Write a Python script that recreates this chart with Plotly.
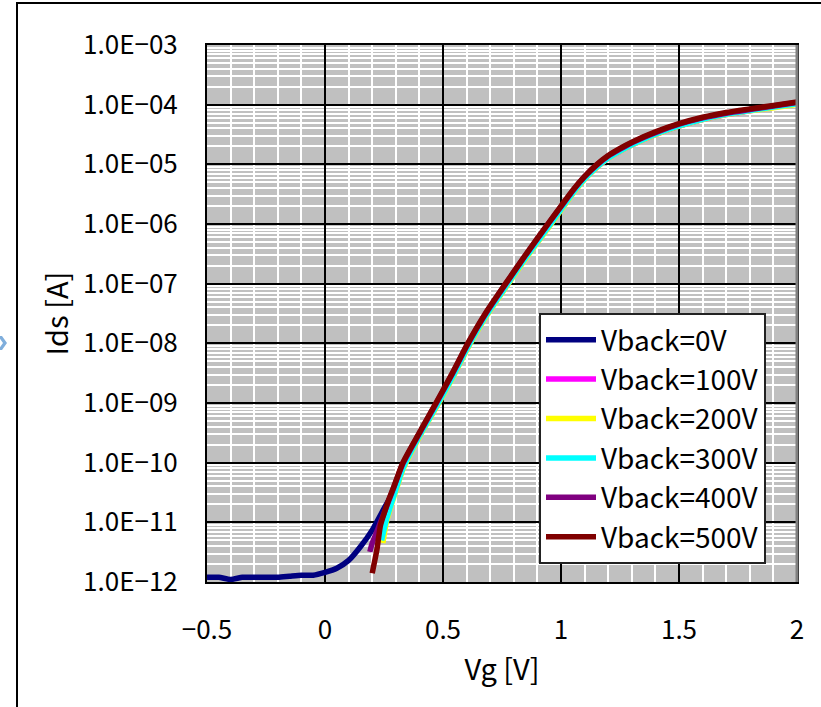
import plotly.graph_objects as go

# ---------------- data ----------------
series_names = ["Vback=0V", "Vback=100V", "Vback=200V", "Vback=300V", "Vback=400V", "Vback=500V"]
series_colors = ["#000080", "#FF00FF", "#FFFF00", "#00FFFF", "#800080", "#800000"]

vg_0v = [-0.5, -0.45, -0.40, -0.35, -0.30, -0.25, -0.20, -0.15, -0.10, -0.05, 0.0, 0.05, 0.10, 0.15, 0.20,
         0.25, 0.29, 0.33, 0.40, 0.47, 0.54, 0.605, 0.68, 0.765, 0.85, 0.948, 1.0, 1.05, 1.1, 1.15, 1.2,
         1.25, 1.3, 1.4, 1.5, 1.6, 1.7, 1.8, 1.9, 2.0]
ids_0v = [1.2e-12, 1.2e-12, 1.1e-12, 1.2e-12, 1.2e-12, 1.2e-12, 1.2e-12, 1.25e-12, 1.3e-12, 1.3e-12,
          1.45e-12, 1.7e-12, 2.3e-12, 3.9e-12, 7.4e-12, 1.7e-11, 3.3e-11, 8.8e-11, 2.9e-10, 9.0e-10,
          2.8e-9, 9.0e-9, 2.9e-8, 9.2e-8, 2.8e-7, 9.4e-7, 1.8e-6, 3.4e-6, 5.8e-6, 9.0e-6, 1.3e-5,
          1.7e-5, 2.15e-5, 3.2e-5, 4.4e-5, 5.7e-5, 6.9e-5, 8.0e-5, 9.2e-5, 1.05e-4]

vg_100v = [0.24, 0.26, 0.28, 0.30, 0.33, 0.40, 0.47, 0.54, 0.605, 0.68, 0.765, 0.85, 0.948, 1.0, 1.05,
           1.1, 1.15, 1.2, 1.25, 1.3, 1.4, 1.5, 1.6, 1.7, 1.8, 1.9, 2.0]
ids_100v = [6.0e-12, 1.2e-11, 2.1e-11, 3.6e-11, 8.2e-11, 2.8e-10, 8.6e-10, 2.7e-9, 8.6e-9, 2.8e-8,
            8.8e-8, 2.7e-7, 9.0e-7, 1.75e-6, 3.3e-6, 5.7e-6, 8.8e-6, 1.27e-5, 1.65e-5, 2.1e-5,
            3.15e-5, 4.35e-5, 5.6e-5, 6.8e-5, 7.9e-5, 9.0e-5, 1.03e-4]

vg_200v = [0.245, 0.26, 0.28, 0.30, 0.33, 0.40, 0.47, 0.54, 0.605, 0.68, 0.765, 0.85, 0.948, 1.0, 1.05,
           1.1, 1.15, 1.2, 1.25, 1.3, 1.4, 1.5, 1.6, 1.7, 1.8, 1.9, 2.0]
ids_200v = [4.5e-12, 1.0e-11, 1.9e-11, 3.3e-11, 7.6e-11, 2.7e-10, 8.2e-10, 2.6e-9, 8.3e-9, 2.7e-8,
            8.5e-8, 2.6e-7, 8.8e-7, 1.7e-6, 3.2e-6, 5.6e-6, 8.7e-6, 1.26e-5, 1.65e-5, 2.1e-5,
            3.15e-5, 4.35e-5, 5.6e-5, 6.8e-5, 7.9e-5, 8.9e-5, 1.01e-4]

vg_300v = [0.24, 0.26, 0.28, 0.30, 0.33, 0.40, 0.47, 0.54, 0.605, 0.68, 0.765, 0.85, 0.948, 1.0, 1.05,
           1.1, 1.15, 1.2, 1.25, 1.3, 1.4, 1.5, 1.6, 1.7, 1.8, 1.9, 2.0]
ids_300v = [5.0e-12, 1.1e-11, 2.0e-11, 3.5e-11, 8.0e-11, 2.8e-10, 8.5e-10, 2.7e-9, 8.6e-9, 2.8e-8,
            8.8e-8, 2.7e-7, 9.1e-7, 1.76e-6, 3.3e-6, 5.7e-6, 8.9e-6, 1.28e-5, 1.67e-5, 2.12e-5,
            3.2e-5, 4.4e-5, 5.7e-5, 6.9e-5, 8.0e-5, 9.1e-5, 1.04e-4]

vg_400v = [0.19, 0.20, 0.22, 0.235, 0.25, 0.27, 0.29, 0.33, 0.40, 0.47, 0.54, 0.605, 0.68, 0.765, 0.85,
           0.948, 1.0, 1.05, 1.1, 1.15, 1.2, 1.25, 1.3, 1.4, 1.5, 1.6, 1.7, 1.8, 1.9, 2.0]
ids_400v = [3.2e-12, 4.5e-12, 7.0e-12, 1.0e-11, 1.4e-11, 2.3e-11, 3.7e-11, 9.6e-11, 3.1e-10, 9.7e-10,
            3.1e-9, 9.7e-9, 3.1e-8, 9.8e-8, 3.0e-7, 1.03e-6, 1.95e-6, 3.6e-6, 6.2e-6, 9.6e-6, 1.38e-5,
            1.8e-5, 2.3e-5, 3.4e-5, 4.7e-5, 6.0e-5, 7.2e-5, 8.3e-5, 9.5e-5, 1.09e-4]

vg_500v = [0.20, 0.21, 0.22, 0.235, 0.25, 0.27, 0.29, 0.33, 0.40, 0.47, 0.54, 0.605, 0.68, 0.765, 0.85,
           0.948, 1.0, 1.05, 1.1, 1.15, 1.2, 1.25, 1.3, 1.4, 1.5, 1.6, 1.7, 1.8, 1.9, 2.0]
ids_500v = [1.4e-12, 2.2e-12, 3.5e-12, 8.9e-12, 1.4e-11, 2.4e-11, 3.8e-11, 1.0e-10, 3.2e-10, 1.0e-9,
            3.2e-9, 1.0e-8, 3.2e-8, 1.0e-7, 3.05e-7, 1.05e-6, 2.0e-6, 3.7e-6, 6.3e-6, 9.8e-6, 1.4e-5,
            1.85e-5, 2.35e-5, 3.5e-5, 4.8e-5, 6.15e-5, 7.4e-5, 8.5e-5, 9.7e-5, 1.11e-4]

all_vg = [vg_0v, vg_100v, vg_200v, vg_300v, vg_400v, vg_500v]
all_ids = [ids_0v, ids_100v, ids_200v, ids_300v, ids_400v, ids_500v]

x_tickvals = [-0.5, 0, 0.5, 1, 1.5, 2]
x_ticktext = ["\u22120.5", "0", "0.5", "1", "1.5", "2"]
y_tickvals = [1e-12, 1e-11, 1e-10, 1e-9, 1e-8, 1e-7, 1e-6, 1e-5, 1e-4, 1e-3]
y_ticktext = ["1.0E\u221212", "1.0E\u221211", "1.0E\u221210", "1.0E\u221209", "1.0E\u221208",
              "1.0E\u221207", "1.0E\u221206", "1.0E\u221205", "1.0E\u221204", "1.0E\u221203"]

FONT = "Noto Sans CJK JP"

fig = go.Figure()
for name, color, vg, ids in zip(series_names, series_colors, all_vg, all_ids):
    fig.add_trace(go.Scatter(x=vg, y=ids, mode="lines", name=name,
                             line=dict(color=color, width=5.5, shape="spline", smoothing=0.6),
                             legendgroup=name))

# plot area in pixels
L, R, T, B = 207, 797, 45, 582
W, H = 821, 707
def px(xp):
    return (xp - L) / (R - L)
def py(yp):
    return (B - yp) / (B - T)

shapes = [
    # outer frame
    dict(type="rect", xref="paper", yref="paper", x0=px(17), x1=px(840), y0=py(3), y1=py(730),
         line=dict(color="black", width=2), fillcolor="rgba(0,0,0,0)", layer="above"),
    # right plot edge grey
    dict(type="line", xref="paper", yref="paper", x0=1, x1=1, y0=0, y1=1,
         line=dict(color="#808080", width=3), layer="above"),
    # small chevron at left edge
    dict(type="path", xref="paper", yref="paper",
         path="M {a},{b} L {c},{b} L {d},{e} L {c},{f} L {a},{f} L {g},{e} Z".format(
             a=px(-2), b=py(336), c=px(2), d=px(7), e=py(343), f=py(350), g=px(3)),
         fillcolor="#7FAEDC", line=dict(width=0)),
]

fig.update_layout(
    width=W, height=H,
    margin=dict(l=L, r=W - R, t=T, b=H - B),
    paper_bgcolor="white", plot_bgcolor="#C0C0C0",
    font=dict(family=FONT, color="black", size=22),
    showlegend=True,
    legend=dict(x=px(539), y=py(313), xanchor="left", yanchor="top",
                bgcolor="white", bordercolor="#222222", borderwidth=2,
                font=dict(family=FONT, size=28, color="black"),
                traceorder="grouped", tracegroupgap=0, itemwidth=50),
    shapes=shapes,
    xaxis=dict(range=[-0.5, 2], tickvals=x_tickvals, ticktext=x_ticktext,
               showgrid=True, gridcolor="black", gridwidth=2,
               minor=dict(dtick=0.1, showgrid=True, gridcolor="white", gridwidth=2),
               showline=True, linecolor="black", linewidth=2, mirror=True,
               ticks="", ticklabelstandoff=24, zeroline=False,
               tickfont=dict(family=FONT, size=26),
               title=dict(text="Vg [V]", font=dict(family=FONT, size=29), standoff=14)),
    yaxis=dict(type="log", range=[-12, -3], tickvals=y_tickvals, ticktext=y_ticktext,
               showgrid=True, gridcolor="black", gridwidth=2,
               minor=dict(dtick="D1", showgrid=True, gridcolor="white", gridwidth=2),
               showline=True, linecolor="black", linewidth=2, mirror=True,
               ticks="", ticklabelstandoff=22, zeroline=False,
               tickfont=dict(family=FONT, size=26),
               title=dict(text="Ids [A]", font=dict(family=FONT, size=29), standoff=6)),
)

fig.write_html("out.html")
